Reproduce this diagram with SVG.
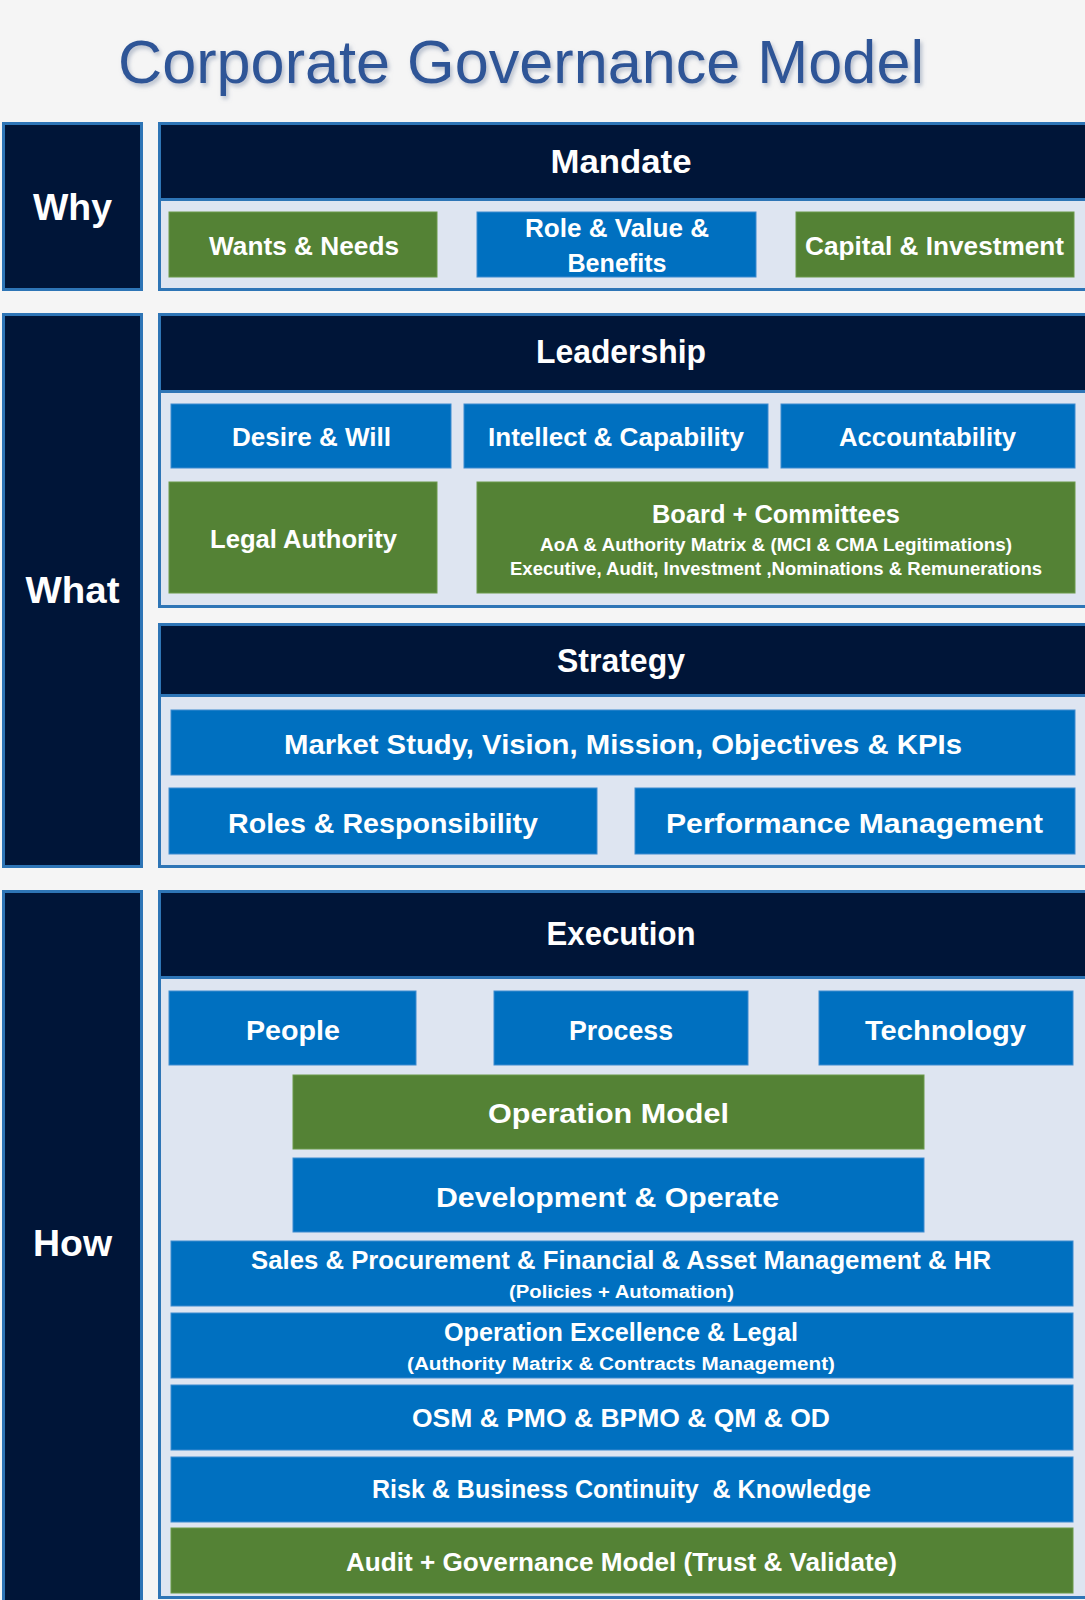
<svg xmlns="http://www.w3.org/2000/svg" width="1085" height="1600" viewBox="0 0 1085 1600">
<defs>
<filter id="sh" x="-5%" y="-20%" width="110%" height="150%">
<feDropShadow dx="2" dy="3" stdDeviation="2" flood-color="#7f8ea8" flood-opacity="0.55"/>
</filter>
<style>
.side{fill:#001538;stroke:#2E75B6;stroke-width:3}
.panel{fill:#DEE5F1;stroke:#2E75B6;stroke-width:3}
.head{fill:#001538;stroke:#2E75B6;stroke-width:3}
.blue{fill:#0070C0;stroke:#3D8BD0;stroke-width:1}
.green{fill:#548235;stroke:#6A9A4A;stroke-width:1}
text{font-family:"Liberation Sans",Arial,sans-serif;font-weight:bold;fill:#ffffff;text-anchor:middle}
.title{font-weight:normal;fill:#2F5597;font-size:61px}
.lbl{font-size:37px}
.hd{font-size:33px}
.m{font-size:26px}
.l{font-size:28px}
.s{font-size:18px}
.e{font-size:25px}
</style>
</defs>
<rect x="0" y="0" width="1085" height="1600" fill="#F5F5F5"/>
<text class="title" x="521" y="83" textLength="806" lengthAdjust="spacingAndGlyphs" filter="url(#sh)">Corporate Governance Model</text>

<g id="why">
<rect class="side" x="3.5" y="123.5" width="138" height="166"/>
<text class="lbl" x="72.5" y="220" textLength="79" lengthAdjust="spacingAndGlyphs">Why</text>
</g>
<g id="mandate">
<rect class="panel" x="159.5" y="123.5" width="930" height="166"/>
<rect class="head" x="159.5" y="123.5" width="930" height="76"/>
<text class="hd" x="621" y="173" textLength="141" lengthAdjust="spacingAndGlyphs">Mandate</text>
</g>
<g id="wants">
<rect class="green" x="169" y="212" width="268" height="65"/>
<text class="m" x="304" y="255" textLength="190" lengthAdjust="spacingAndGlyphs">Wants &amp; Needs</text>
</g>
<g id="role">
<rect class="blue" x="477" y="212" width="279" height="65"/>
<text class="m" x="617" y="237" textLength="184" lengthAdjust="spacingAndGlyphs">Role &amp; Value &amp;</text>
<text class="m" x="617" y="272" textLength="99" lengthAdjust="spacingAndGlyphs">Benefits</text>
</g>
<g id="capital">
<rect class="green" x="796" y="212" width="278" height="65"/>
<text class="m" x="934.5" y="255" textLength="259" lengthAdjust="spacingAndGlyphs">Capital &amp; Investment</text>
</g>

<g id="what">
<rect class="side" x="3.5" y="314.5" width="138" height="552"/>
<text class="lbl" x="72.5" y="603" textLength="94" lengthAdjust="spacingAndGlyphs">What</text>
</g>
<g id="leadership">
<rect class="panel" x="159.5" y="314.5" width="930" height="292"/>
<rect class="head" x="159.5" y="314.5" width="930" height="77"/>
<text class="hd" x="621" y="363" textLength="170" lengthAdjust="spacingAndGlyphs">Leadership</text>
</g>
<g id="desire">
<rect class="blue" x="171" y="404" width="280" height="64"/>
<text class="m" x="311.5" y="446" textLength="159" lengthAdjust="spacingAndGlyphs">Desire &amp; Will</text>
</g>
<g id="intellect">
<rect class="blue" x="464" y="404" width="304" height="64"/>
<text class="m" x="616" y="446" textLength="256" lengthAdjust="spacingAndGlyphs">Intellect &amp; Capability</text>
</g>
<g id="accountability">
<rect class="blue" x="781" y="404" width="294" height="64"/>
<text class="m" x="927.5" y="446" textLength="177" lengthAdjust="spacingAndGlyphs">Accountability</text>
</g>
<g id="legal">
<rect class="green" x="169" y="482" width="268" height="111"/>
<text class="m" x="303.5" y="548" textLength="187" lengthAdjust="spacingAndGlyphs">Legal Authority</text>
</g>
<g id="board">
<rect class="green" x="477" y="482" width="598" height="111"/>
<text class="m" x="776" y="523" textLength="248" lengthAdjust="spacingAndGlyphs">Board + Committees</text>
<text class="s" x="776" y="551" textLength="472" lengthAdjust="spacingAndGlyphs">AoA &amp; Authority Matrix &amp; (MCI &amp; CMA Legitimations)</text>
<text class="s" x="776" y="575" textLength="532" lengthAdjust="spacingAndGlyphs">Executive, Audit, Investment ,Nominations &amp; Remunerations</text>
</g>

<g id="strategy">
<rect class="panel" x="159.5" y="624.5" width="930" height="242"/>
<rect class="head" x="159.5" y="624.5" width="930" height="71"/>
<text class="hd" x="621" y="672" textLength="128" lengthAdjust="spacingAndGlyphs">Strategy</text>
</g>
<g id="market">
<rect class="blue" x="171" y="710" width="904" height="65"/>
<text class="l" x="623" y="754" textLength="678" lengthAdjust="spacingAndGlyphs">Market Study, Vision, Mission, Objectives &amp; KPIs</text>
</g>
<g id="roles">
<rect class="blue" x="169" y="788" width="428" height="66"/>
<text class="l" x="383" y="833" textLength="310" lengthAdjust="spacingAndGlyphs">Roles &amp; Responsibility</text>
</g>
<g id="performance">
<rect class="blue" x="635" y="788" width="440" height="66"/>
<text class="l" x="854.5" y="833" textLength="377" lengthAdjust="spacingAndGlyphs">Performance Management</text>
</g>

<g id="how">
<rect class="side" x="3.5" y="891.5" width="138" height="710"/>
<text class="lbl" x="72.5" y="1256" textLength="79" lengthAdjust="spacingAndGlyphs">How</text>
</g>
<g id="execution">
<rect class="panel" x="159.5" y="891.5" width="930" height="706"/>
<rect class="head" x="159.5" y="891.5" width="930" height="86"/>
<text class="hd" x="621" y="945" textLength="149" lengthAdjust="spacingAndGlyphs">Execution</text>
</g>
<g id="people">
<rect class="blue" x="169" y="991" width="247" height="74"/>
<text class="l" x="293" y="1040" textLength="94" lengthAdjust="spacingAndGlyphs">People</text>
</g>
<g id="process">
<rect class="blue" x="494" y="991" width="254" height="74"/>
<text class="l" x="621" y="1040" textLength="104" lengthAdjust="spacingAndGlyphs">Process</text>
</g>
<g id="technology">
<rect class="blue" x="819" y="991" width="254" height="74"/>
<text class="l" x="945.5" y="1040" textLength="161" lengthAdjust="spacingAndGlyphs">Technology</text>
</g>
<g id="opmodel">
<rect class="green" x="293" y="1075" width="631" height="74"/>
<text class="l" x="608.5" y="1123" textLength="241" lengthAdjust="spacingAndGlyphs">Operation Model</text>
</g>
<g id="devop">
<rect class="blue" x="293" y="1158" width="631" height="74"/>
<text class="l" x="607.5" y="1207" textLength="343" lengthAdjust="spacingAndGlyphs">Development &amp; Operate</text>
</g>
<g id="sales">
<rect class="blue" x="171" y="1241" width="902" height="65"/>
<text class="e" x="621" y="1269" textLength="740" lengthAdjust="spacingAndGlyphs">Sales &amp; Procurement &amp; Financial &amp; Asset Management &amp; HR</text>
<text class="s" x="621.5" y="1298" textLength="225" lengthAdjust="spacingAndGlyphs">(Policies + Automation)</text>
</g>
<g id="opex">
<rect class="blue" x="171" y="1313" width="902" height="65"/>
<text class="e" x="621" y="1341" textLength="354" lengthAdjust="spacingAndGlyphs">Operation Excellence &amp; Legal</text>
<text class="s" x="621" y="1370" textLength="428" lengthAdjust="spacingAndGlyphs">(Authority Matrix &amp; Contracts Management)</text>
</g>
<g id="osm">
<rect class="blue" x="171" y="1385" width="902" height="65"/>
<text class="e" x="621" y="1427" textLength="418" lengthAdjust="spacingAndGlyphs">OSM &amp; PMO &amp; BPMO &amp; QM &amp; OD</text>
</g>
<g id="risk">
<rect class="blue" x="171" y="1457" width="902" height="65"/>
<text class="e" x="621.5" y="1498" textLength="499" lengthAdjust="spacingAndGlyphs" xml:space="preserve">Risk &amp; Business Continuity  &amp; Knowledge</text>
</g>
<g id="audit">
<rect class="green" x="171" y="1528" width="902" height="65"/>
<text class="e" x="621.5" y="1571" textLength="551" lengthAdjust="spacingAndGlyphs">Audit + Governance Model (Trust &amp; Validate)</text>
</g>
<g id="connectors"></g>
</svg>
